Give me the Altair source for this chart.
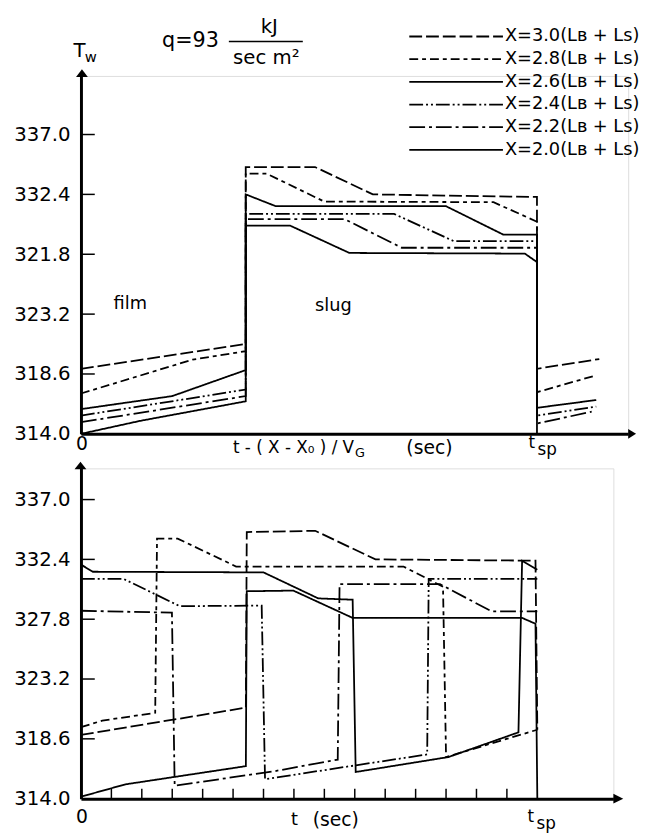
import altair as alt
import pandas as pd

FONT = "DejaVu Sans"

# ---------------- data ----------------
SERIES = ["X=3.0", "X=2.8", "X=2.6", "X=2.4", "X=2.2", "X=2.0"]
LEGEND_LABELS = ["X=3.0(Lʙ + Ls)", "X=2.8(Lʙ + Ls)", "X=2.6(Lʙ + Ls)",
                 "X=2.4(Lʙ + Ls)", "X=2.2(Lʙ + Ls)", "X=2.0(Lʙ + Ls)"]

Y_TICKS = [314.0, 318.6, 323.2, 327.8, 332.4, 337.0]
TOP_Y_LABELS = ["314.0", "318.6", "323.2", "321.8", "332.4", "337.0"]
BOT_Y_LABELS = ["314.0", "318.6", "323.2", "327.8", "332.4", "337.0"]
BOT_X_TICKS = [1, 2, 3, 4, 5, 6, 7, 8, 9, 10, 11, 12, 13, 14]

TOP_X_DOMAIN = [0, 18.0]
TOP_Y_DOMAIN = [314.0, 341.5]
BOT_X_DOMAIN = [0, 17.5]
BOT_Y_DOMAIN = [314.0, 339.4]

# top panel: T_w against t-(X-X0)/V_G
TOP_30_T = [0, 5.42, 5.42, 7.7, 9.6, 15.0, 15.0, 17.05]
TOP_30_W = [319.0, 320.9, 334.5, 334.5, 332.4, 332.2, 319.0, 319.75]
TOP_28_T = [0, 3.67, 5.42, 5.42, 6.1, 8.0, 13.57, 15.0, 15.0, 16.95]
TOP_28_W = [317.1, 319.7, 320.35, 334.0, 334.0, 331.85, 331.8, 330.3, 317.2, 318.5]
TOP_26_T = [0, 3.0, 5.42, 5.42, 6.4, 12.0, 13.9, 15.0, 15.0, 16.95]
TOP_26_W = [315.9, 316.9, 318.9, 332.4, 331.5, 331.5, 329.3, 329.3, 316.0, 316.6]
TOP_24_T = [0, 5.42, 5.42, 10.3, 12.27, 15.0, 15.0, 16.95]
TOP_24_W = [315.4, 317.4, 330.9, 330.9, 328.8, 328.8, 315.4, 316.1]
TOP_22_T = [0, 5.42, 5.42, 8.67, 10.55, 15.0, 15.0, 16.8]
TOP_22_W = [314.9, 316.9, 330.5, 330.5, 328.3, 328.3, 314.8, 315.7]
TOP_20_T = [0, 1.95, 5.42, 5.42, 6.88, 8.83, 14.6, 15.0, 15.0]
TOP_20_W = [314.0, 315.0, 316.5, 330.0, 330.0, 327.9, 327.85, 327.2, 314.0]

# bottom panel: T_w against t
BOT_30_T = [0, 5.42, 5.45, 7.7, 9.68, 14.94, 15.0]
BOT_30_W = [318.9, 321.0, 334.5, 334.6, 332.4, 332.3, 319.3]
BOT_28_T = [0, 0.7, 2.44, 2.5, 3.18, 5.1, 10.6, 11.9, 12.0, 15.0]
BOT_28_W = [319.5, 320.0, 320.6, 334.0, 334.0, 331.85, 331.85, 330.3, 317.2, 319.3]
BOT_26_T = [0, 0.39, 6.0, 7.8, 8.93, 9.03, 12.08, 14.38, 14.5, 15.0]
BOT_26_W = [332.0, 331.45, 331.4, 329.4, 329.3, 316.05, 317.2, 319.1, 332.3, 331.6]
BOT_24_T = [0, 1.4, 3.25, 5.94, 6.05, 11.38, 11.43, 15.0]
BOT_24_W = [330.9, 330.9, 328.8, 328.85, 315.5, 317.4, 330.9, 330.9]
BOT_22_T = [0, 2.99, 3.08, 6.33, 8.44, 8.5, 11.8, 13.5, 15.0]
BOT_22_W = [328.45, 328.3, 315.0, 316.1, 317.0, 330.5, 330.5, 328.4, 328.4]
BOT_20_T = [0, 1.46, 5.42, 5.45, 6.98, 8.93, 14.5, 14.94, 15.0]
BOT_20_W = [314.15, 315.1, 316.5, 329.95, 330.0, 327.9, 327.9, 327.45, 314.0]

# ---------------- styles ----------------
DASHES = [[13, 4], [9, 4, 4, 4], [1, 0], [14, 3, 2, 3, 2, 3], [16, 4, 3, 4], [1, 0]]
WIDTHS = [1.8, 1.8, 2.5, 1.8, 1.8, 1.6]


def frame(pairs):
    rows = []
    for name, ts, ws in pairs:
        for i, (t, w) in enumerate(zip(ts, ws)):
            rows.append({"series": name, "t": t, "T": w, "i": i})
    return pd.DataFrame(rows)


df_top = frame([
    ("X=3.0", TOP_30_T, TOP_30_W), ("X=2.8", TOP_28_T, TOP_28_W),
    ("X=2.6", TOP_26_T, TOP_26_W), ("X=2.4", TOP_24_T, TOP_24_W),
    ("X=2.2", TOP_22_T, TOP_22_W), ("X=2.0", TOP_20_T, TOP_20_W)])
df_bot = frame([
    ("X=3.0", BOT_30_T, BOT_30_W), ("X=2.8", BOT_28_T, BOT_28_W),
    ("X=2.6", BOT_26_T, BOT_26_W), ("X=2.4", BOT_24_T, BOT_24_W),
    ("X=2.2", BOT_22_T, BOT_22_W), ("X=2.0", BOT_20_T, BOT_20_W)])


def label_expr(values, labels):
    expr = "''"
    for v, l in reversed(list(zip(values, labels))):
        expr = f"(abs(datum.value - {v}) < 0.05 ? '{l}' : {expr})"
    return expr


dash_enc = alt.StrokeDash("series:N", scale=alt.Scale(domain=SERIES, range=DASHES), legend=None)
width_enc = alt.StrokeWidth("series:N", scale=alt.Scale(domain=SERIES, range=WIDTHS), legend=None)


def txt(s, x, y, size, align="left", baseline="middle"):
    return alt.Chart(pd.DataFrame({"s": [s]})).mark_text(
        font=FONT, fontSize=size, align=align, baseline=baseline, color="black"
    ).encode(x=alt.value(x), y=alt.value(y), text="s:N")


def panel(df, xdom, ydom, ylabels, W, H, right_arrow, up_x):
    xs = alt.Scale(domain=xdom, nice=False, zero=False)
    ys = alt.Scale(domain=ydom, nice=False, zero=False)
    lines = alt.Chart(df).mark_line(color="black").encode(
        x=alt.X("t:Q", scale=xs, axis=alt.Axis(labels=False, ticks=False, grid=False, title=None,
                                               domainColor="black", domainWidth=3)),
        y=alt.Y("T:Q", scale=ys, axis=alt.Axis(values=Y_TICKS, labelExpr=label_expr(Y_TICKS, ylabels),
                                               ticks=False, tickSize=0, grid=False, title=None,
                                               domainColor="black", domainWidth=3,
                                               labelFontSize=20, labelFont=FONT, labelColor="black",
                                               labelPadding=11)),
        detail="series:N",
        strokeDash=dash_enc,
        strokeWidth=width_enc,
        order="i:Q",
    )
    yticks = alt.Chart(pd.DataFrame({"T": Y_TICKS[1:]})).mark_rule(color="black", strokeWidth=1.5).encode(
        y=alt.Y("T:Q", scale=ys, axis=None), x=alt.value(0), x2=alt.value(14))
    rt = alt.Chart(pd.DataFrame({"b": [1]})).mark_point(
        shape=right_arrow, filled=True, size=100, color="black", opacity=1
    ).encode(x=alt.value(W), y=alt.value(H))
    up = alt.Chart(pd.DataFrame({"b": [1]})).mark_point(
        shape="M-1,0L0,-1.3L1,0Z", filled=True, size=144, color="black", opacity=1
    ).encode(x=alt.value(up_x), y=alt.value(1))
    return xs, ys, [lines, yticks, rt, up]


# ---------------- top panel ----------------
W1, H1 = 555, 363
xs1, ys1, layers1 = panel(df_top, TOP_X_DOMAIN, TOP_Y_DOMAIN, TOP_Y_LABELS, W1, H1,
                          "M0,-1L1.6,0L0,1Z", 1)

leg_df = pd.DataFrame({"series": SERIES, "label": LEGEND_LABELS})
row_scale = alt.Scale(domain=SERIES, type="point", range=[-40, 75], padding=0)
leg_lines = alt.Chart(leg_df).mark_rule(color="black").encode(
    y=alt.Y("series:N", scale=row_scale, axis=None),
    x=alt.value(333), x2=alt.value(428),
    strokeDash=dash_enc, strokeWidth=width_enc)
leg_text = alt.Chart(leg_df).mark_text(font=FONT, fontSize=18, align="left", baseline="middle",
                                       color="black").encode(
    y=alt.Y("series:N", scale=row_scale, axis=None), x=alt.value(430), text="label:N")

bar = alt.Chart(pd.DataFrame({"c": [2]})).mark_rule(color="black", strokeWidth=1.5).encode(
    x=alt.value(150), x2=alt.value(225), y=alt.value(-35))

top_texts = [
    txt("q=93", 111, -35, 21, align="center"),
    txt("kJ", 191, -50, 20, align="center"),
    txt("sec m²", 188, -18, 20, align="center"),
    txt("T", -1.5, -25, 20, align="center"),
    txt("w", 10, -19, 15, align="center"),
    txt("film", 50, 231, 18, align="center"),
    txt("slug", 256, 233, 18, align="center"),
    txt("0", 1, 373, 19, align="center"),
    txt("t - ( X - X₀ ) / V", 277, 377, 17, align="right"),
    txt("G", 278, 382, 13),
    txt("(sec)", 330, 377, 19),
    txt("t", 454, 372, 17),
    txt("sp", 463, 379, 17),
]

top = alt.layer(*layers1, bar, leg_lines, leg_text, *top_texts).resolve_scale(
    y="independent").properties(width=W1, height=H1)

# ---------------- bottom panel ----------------
W2, H2 = 540, 335
xs2, ys2, layers2 = panel(df_bot, BOT_X_DOMAIN, BOT_Y_DOMAIN, BOT_Y_LABELS, W2, H2,
                          "M0,-1L2,0L0,1Z", -0.5)

xticks = alt.Chart(pd.DataFrame({"t": BOT_X_TICKS})).mark_rule(color="black", strokeWidth=1.5).encode(
    x=alt.X("t:Q", scale=xs2), y=alt.value(H2), y2=alt.value(H2 - 10))

bot_texts = [
    txt("0", 1, 354, 19, align="center"),
    txt("t", 213, 357, 18),
    txt("(sec)", 235, 357, 19),
    txt("t", 453, 354, 17),
    txt("sp", 462, 361, 17),
]

bottom = alt.layer(*layers2, xticks, *bot_texts).resolve_scale(
    y="independent").properties(width=W2, height=H2)

chart = alt.vconcat(top, bottom, spacing=0).properties(
    padding={"left": 5, "top": 2, "right": 0, "bottom": 0}
).configure_view(stroke=None).configure(font=FONT)

chart.save("out.html", embed_options={"renderer": "svg", "actions": False})
